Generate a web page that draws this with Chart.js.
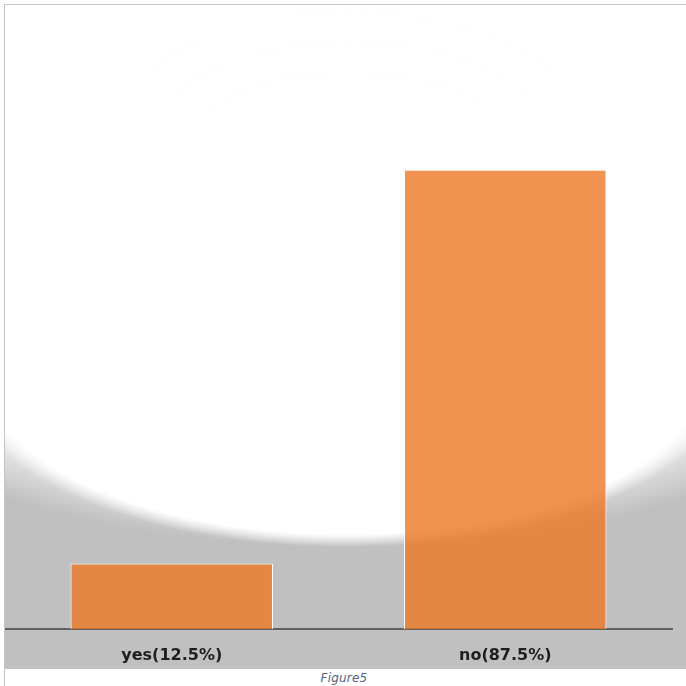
<!DOCTYPE html>
<html>
<head>
<meta charset="utf-8">
<script src="https://cdn.jsdelivr.net/npm/chart.js@4.4.1/dist/chart.umd.min.js"></script>
<style>
  html, body { margin: 0; padding: 0; background: #ffffff; }
  #frame { position: absolute; left: 4px; top: 4px; width: 682px; height: 682px;
           border-top: 1px solid #c4c4c4; border-left: 1px solid #c4c4c4; box-sizing: border-box; }
  #c { position: absolute; left: 5px; top: 5px; }
  #cap { position: absolute; left: 0; width: 688px; top: 671px; text-align: center;
         font-family: "DejaVu Sans", sans-serif; font-style: italic; font-size: 12px;
         color: #56647f; letter-spacing: 0.2px; }
</style>
</head>
<body>
<div id="frame"></div>
<canvas id="c" width="681" height="664"></canvas>
<div id="cap">Figure5</div>
<script>
const categories = ["yes(12.5%)", "no(87.5%)"];
const percentValues = [12.5, 87.5];

const bgPlugin = {
  id: 'bg',
  beforeDraw(chart) {
    const ctx = chart.ctx;
    const W = chart.width, H = chart.height;
    ctx.save();
    ctx.fillStyle = '#c0c0c0';
    ctx.fillRect(0, 0, W, H);
    const cx = 340, bottom = 542;
    let rx = 600, ry = 280, cy = bottom - ry;
    ctx.save();
    ctx.translate(cx, cy);
    ctx.scale(1, ry / rx);
    let g = ctx.createRadialGradient(0, 0, 0, 0, 0, rx);
    g.addColorStop(0, 'rgba(255,255,255,0.75)');
    g.addColorStop(0.82, 'rgba(255,255,255,0.75)');
    g.addColorStop(1, 'rgba(255,255,255,0)');
    ctx.fillStyle = g;
    ctx.beginPath(); ctx.arc(0, 0, rx, 0, Math.PI * 2); ctx.fill();
    ctx.restore();
    rx = 390; ry = 180; cy = bottom - ry;
    ctx.save();
    ctx.translate(cx, cy);
    ctx.scale(1, ry / rx);
    g = ctx.createRadialGradient(0, 0, 0, 0, 0, rx);
    g.addColorStop(0, 'rgba(255,255,255,1)');
    g.addColorStop(0.93, 'rgba(255,255,255,1)');
    g.addColorStop(1, 'rgba(255,255,255,0)');
    ctx.fillStyle = g;
    ctx.beginPath(); ctx.arc(0, 0, rx, 0, Math.PI * 2); ctx.fill();
    ctx.restore();
    ctx.fillStyle = '#ffffff';
    ctx.fillRect(0, 0, W, cy);
    // very faint decorative arcs near the top
    ctx.strokeStyle = 'rgba(0,0,0,0.012)';
    ctx.lineWidth = 1.5;
    [[345, 7, 230], [345, 37, 200], [345, 67, 170]].forEach(a => {
      const peak = a[1], r = a[2];
      ctx.save();
      ctx.translate(a[0], peak + r * 0.5);
      ctx.scale(1, 0.5);
      ctx.beginPath();
      ctx.arc(0, 0, r, Math.PI * 1.15, Math.PI * 1.85);
      ctx.restore();
      ctx.stroke();
    });
    ctx.restore();
  }
};

new Chart(document.getElementById('c'), {
  type: 'bar',
  data: {
    labels: categories,
    datasets: [{
      data: percentValues,
      backgroundColor: 'rgba(236,122,41,0.81)',
      borderColor: '#ffffff',
      borderWidth: 1,
      borderSkipped: 'bottom',
      barPercentage: 0.607,
      categoryPercentage: 1.0
    }]
  },
  options: {
    responsive: false,
    animation: false,
    layout: { padding: { top: 99, right: 14, left: 0, bottom: 0 } },
    plugins: { legend: { display: false }, tooltip: { enabled: false } },
    scales: {
      x: {
        grid: { display: false },
        border: { display: true, color: '#606060', width: 2 },
        ticks: {
          color: '#1e1e1e',
          padding: 9,
          font: { family: '"DejaVu Sans", sans-serif', size: 16, weight: 'bold' }
        },
        afterFit(scale) { scale.height = 40; }
      },
      y: {
        display: false,
        min: 0,
        max: 100
      }
    }
  },
  plugins: [bgPlugin]
});
</script>
</body>
</html>
